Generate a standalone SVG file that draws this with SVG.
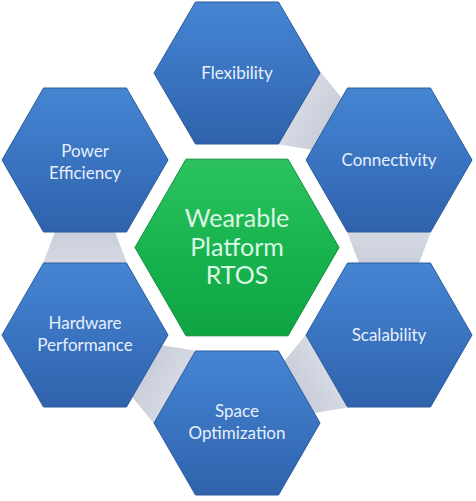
<svg xmlns="http://www.w3.org/2000/svg" width="476" height="501" viewBox="0 0 476 501">
  <defs>
    <linearGradient id="blueFill" x1="0" y1="0" x2="0" y2="1">
      <stop offset="0" stop-color="#4585d2"/>
      <stop offset="0.5" stop-color="#3a74c1"/>
      <stop offset="1" stop-color="#2f62ab"/>
    </linearGradient>
    <linearGradient id="greenFill" x1="0" y1="0" x2="0" y2="1">
      <stop offset="0" stop-color="#2cc35f"/>
      <stop offset="0.5" stop-color="#18b450"/>
      <stop offset="1" stop-color="#0fa443"/>
    </linearGradient>
    <linearGradient id="grayFill" x1="0" y1="0" x2="0" y2="1">
      <stop offset="0" stop-color="#c6cbd7"/>
      <stop offset="1" stop-color="#d9dce5"/>
    </linearGradient>
    <polygon id="conn" points="-178.5,-25 -125.5,-25 -106.5,25 -197.5,25"/>
  </defs>
  <style>
    .hex { fill: url(#blueFill); stroke: #2c5b9c; stroke-width: 1; }
    .center { fill: url(#greenFill); stroke: #0e8d3b; stroke-width: 1; }
    .link { fill: url(#grayFill); }
    .lbl { font-family: Lato, "Liberation Sans", sans-serif; font-size: 17px; fill: #e8effb; text-anchor: middle; }
    .clbl { font-family: Lato, "Liberation Sans", sans-serif; font-size: 25px; fill: #dcf7e3; text-anchor: middle; }
  </style>
  <rect width="476" height="501" fill="#ffffff"/>

  <g id="connectors">
    <use href="#conn" class="link" transform="translate(237,247.5)"/>
    <use href="#conn" class="link" transform="translate(237,247.5) rotate(120)"/>
    <use href="#conn" class="link" transform="translate(237,247.5) rotate(180)"/>
    <use href="#conn" class="link" transform="translate(237,247.5) rotate(240)"/>
    <use href="#conn" class="link" transform="translate(237,247.5) rotate(300)"/>
  </g>

  <g id="center">
    <polygon class="center" points="135,247.5 186,159.2 288,159.2 339,247.5 288,335.8 186,335.8"/>
    <text class="clbl" x="237" y="227">Wearable</text>
    <text class="clbl" x="237" y="256">Platform</text>
    <text class="clbl" x="237" y="284">RTOS</text>
  </g>

  <g id="flexibility">
    <polygon class="hex" points="154,73 195.5,2 278.5,2 320,73 278.5,144 195.5,144"/>
    <text class="lbl" x="237" y="79">Flexibility</text>
  </g>

  <g id="connectivity">
    <polygon class="hex" points="306,160 347.5,88 430.5,88 472,160 430.5,232 347.5,232"/>
    <text class="lbl" x="389" y="166">Connectivity</text>
  </g>

  <g id="scalability">
    <polygon class="hex" points="306,335 347.5,263 430.5,263 472,335 430.5,407 347.5,407"/>
    <text class="lbl" x="389" y="341">Scalability</text>
  </g>

  <g id="space-optimization">
    <polygon class="hex" points="154,423 195.5,351 278.5,351 320,423 278.5,495 195.5,495"/>
    <text class="lbl" x="237" y="417">Space</text>
    <text class="lbl" x="237" y="439">Optimization</text>
  </g>

  <g id="hardware-performance">
    <polygon class="hex" points="2,335 43.5,263 126.5,263 168,335 126.5,407 43.5,407"/>
    <text class="lbl" x="85" y="329">Hardware</text>
    <text class="lbl" x="85" y="351">Performance</text>
  </g>

  <g id="power-efficiency">
    <polygon class="hex" points="2,160 43.5,88 126.5,88 168,160 126.5,232 43.5,232"/>
    <text class="lbl" x="85" y="157">Power</text>
    <text class="lbl" x="85" y="179">Efficiency</text>
  </g>
</svg>
